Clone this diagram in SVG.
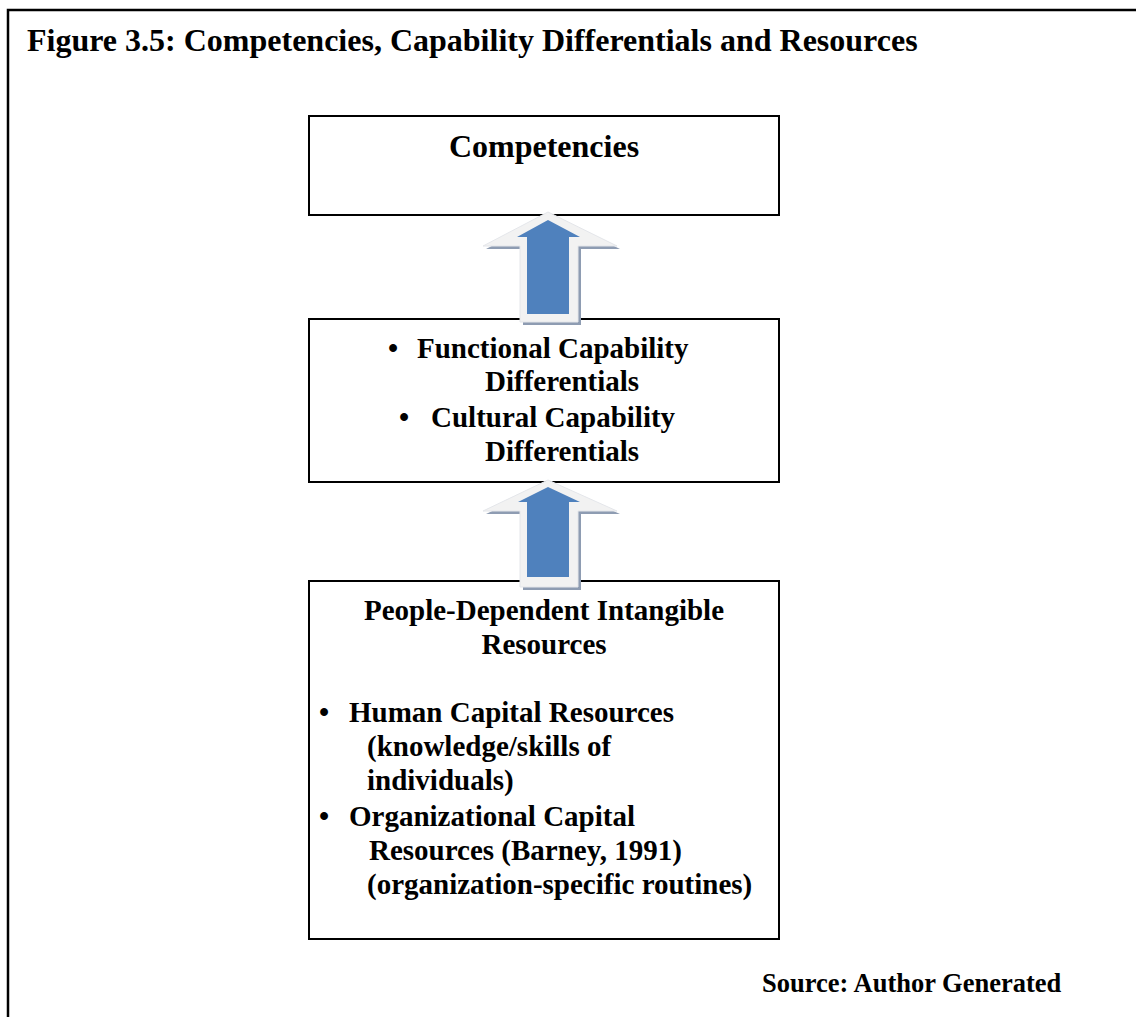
<svg xmlns="http://www.w3.org/2000/svg" width="1136" height="1017" viewBox="0 0 1136 1017">
<style>
.frame{fill:none;stroke:#000;stroke-width:2.5}
.box{fill:#fff;stroke:#000;stroke-width:2}
text{font-family:"Liberation Serif","Times New Roman",serif;font-weight:bold;fill:#000}
.t{font-size:32px}
.b{font-size:29px}
.s{font-size:26.5px}
.aw{fill:#f2f2f2;stroke:#e4e6ea;stroke-width:1}
.ash{fill:#8e9cb2}
.ab{fill:#4f81bd}
</style>
<rect x="0" y="0" width="1136" height="1017" fill="#fff"/>
<rect class="frame" x="8" y="10" width="1150" height="1030"/>
<text class="t" x="27" y="51">Figure 3.5: Competencies, Capability Differentials and Resources</text>
<g id="competencies">
<rect class="box" x="309" y="116" width="470" height="99"/>
<text class="t" x="544" y="157" text-anchor="middle">Competencies</text>
</g>
<g id="differentials">
<rect class="box" x="309" y="319" width="470" height="163"/>
<text class="b" x="388" y="358">•</text>
<text class="b" x="417" y="358">Functional Capability</text>
<text class="b" x="485" y="391">Differentials</text>
<text class="b" x="399" y="427">•</text>
<text class="b" x="431" y="427">Cultural Capability</text>
<text class="b" x="485" y="461">Differentials</text>
</g>
<g id="resources">
<rect class="box" x="309" y="581" width="470" height="358"/>
<text class="b" x="544" y="620" text-anchor="middle">People-Dependent Intangible</text>
<text class="b" x="544" y="654" text-anchor="middle">Resources</text>
<text class="b" x="319" y="722">•</text>
<text class="b" x="349" y="722">Human Capital Resources</text>
<text class="b" x="367" y="756">(knowledge/skills of</text>
<text class="b" x="367" y="790">individuals)</text>
<text class="b" x="319" y="826">•</text>
<text class="b" x="349" y="826">Organizational Capital</text>
<text class="b" x="369" y="860">Resources (Barney, 1991)</text>
<text class="b" x="367" y="894">(organization-specific routines)</text>
</g>
<g id="connectors">
<g id="arrow1">
<polygon class="ash" points="551,215 620,249 581,249 581,325 523,325 523,249 486,249"/>
<polygon class="aw" points="548,212 617,246 578,246 578,322 520,322 520,246 483,246"/>
<polygon class="ab" points="548,220 580,237 569,237 569,314 527,314 527,237 517,237"/>
</g>
<g id="arrow2">
<polygon class="ash" points="551,483 620,514 581,514 581,590 523,590 523,514 486,514"/>
<polygon class="aw" points="548,480 617,511 578,511 578,587 520,587 520,511 483,511"/>
<polygon class="ab" points="548,487 580,502 569,502 569,577 527,577 527,502 518,502"/>
</g>
</g>
<text class="s" x="762" y="992">Source: Author Generated</text>
</svg>
